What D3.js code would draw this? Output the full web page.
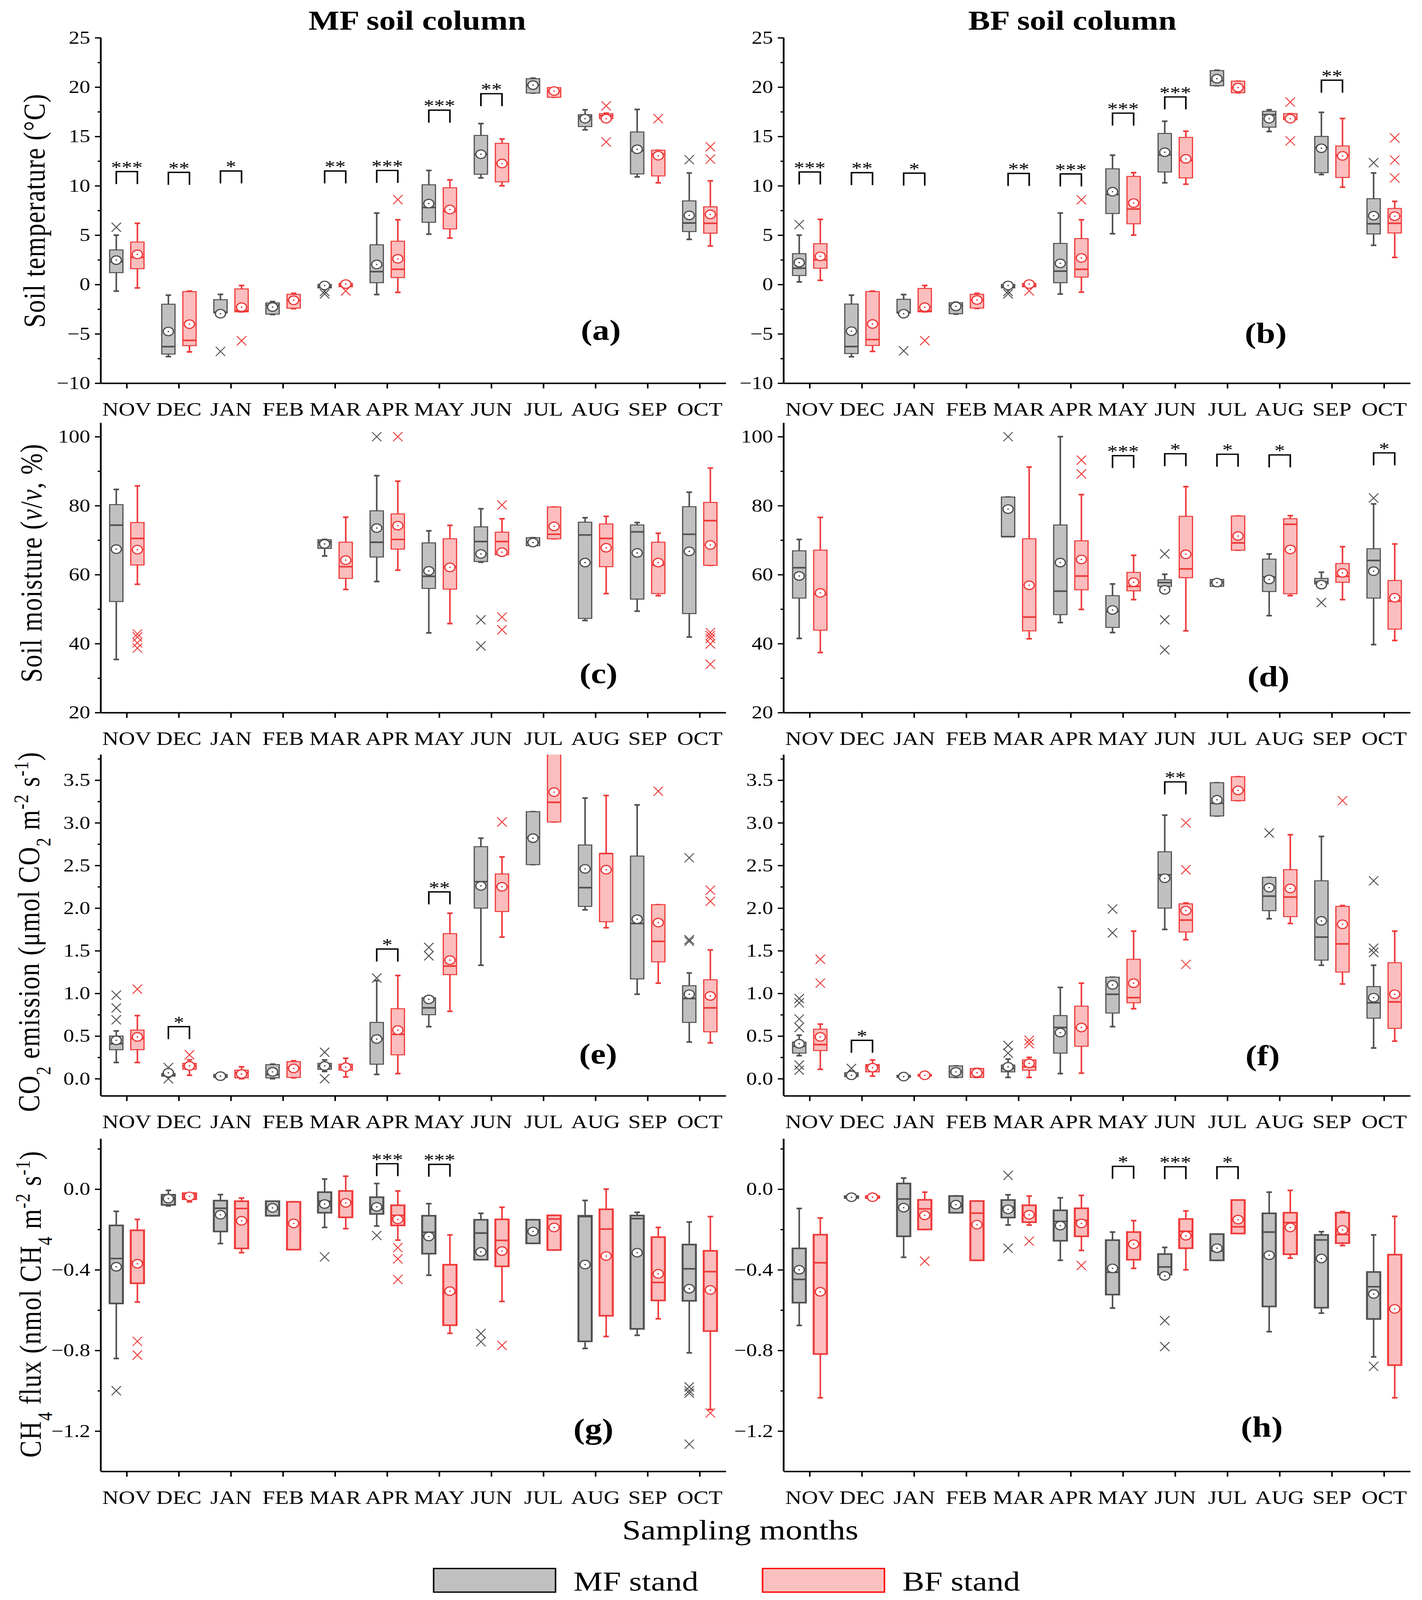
<!DOCTYPE html>
<html lang="en">
<head>
<meta charset="UTF-8">
<title>Soil column box plots</title>
<script src="https://cdn.jsdelivr.net/npm/d3@7"></script>
<style>
  html, body { margin: 0; padding: 0; background: #fff; overflow: hidden; }
  svg { display: block; width: 100vw; height: 100vh; }
  svg text { font-family: "Liberation Serif", "DejaVu Serif", serif; fill: #000; }
</style>
</head>
<body>
<script>
const months = ["NOV","DEC","JAN","FEB","MAR","APR","MAY","JUN","JUL","AUG","SEP","OCT"];

// each month: [whisker low, Q1, median, Q3, whisker high, mean, [outliers]]
const tempMF_a = [
  [-0.67, 1.2, 2.3, 3.5, 5.0, 2.47, [5.8]],
  [-7.3, -7.05, -6.3, -2.0, -1.08, -4.76, []],
  [-2.9, -2.88, -2.8, -1.54, -1.0, -2.96, [-6.78]],
  [-3.04, -3.0, -2.1, -1.87, -1.73, -2.28, []],
  [-0.4, -0.35, -0.25, 0.0, 0.05, -0.1, [-0.7, -0.95]],
  [-1.02, 0.18, 1.3, 4.02, 7.24, 2.03, []],
  [5.1, 6.3, 7.8, 10.1, 11.55, 8.2, []],
  [10.8, 11.17, 13.2, 15.1, 16.3, 13.2, []],
  [19.4, 19.4, 20.2, 20.85, 20.9, 20.2, []],
  [15.67, 16.0, 17.0, 17.2, 17.7, 16.8, []],
  [10.9, 11.2, 13.55, 15.45, 17.74, 13.7, []],
  [4.57, 5.36, 6.23, 8.47, 11.3, 7.0, [12.64]]
];
const tempBF_a = [
  [-0.35, 1.6, 2.75, 4.3, 6.2, 3.05, []],
  [-6.83, -6.2, -5.66, -0.72, -0.67, -4.02, []],
  [-2.77, -2.77, -2.66, -0.45, -0.1, -2.3, [-5.7]],
  [-2.45, -2.4, -1.6, -1.0, -0.9, -1.6, []],
  [-0.3, -0.23, -0.1, 0.1, 0.15, 0.04, [-0.65]],
  [-0.8, 0.7, 1.54, 4.38, 6.56, 2.6, [8.6]],
  [4.7, 5.63, 7.4, 9.8, 10.6, 7.6, []],
  [10.0, 10.4, 12.26, 14.3, 14.74, 12.26, []],
  [18.97, 18.97, 19.6, 19.95, 19.95, 19.6, []],
  [16.75, 16.8, 17.1, 17.3, 17.36, 16.8, [18.1, 14.45]],
  [10.3, 11.0, 13.2, 13.6, 13.6, 13.05, [16.8]],
  [3.9, 5.2, 6.2, 7.87, 10.5, 7.1, [13.95, 12.7]]
];
const tempSig_a = [[0, 11.44, "***"], [1, 11.36, "**"], [2, 11.5, "*"], [4, 11.5, "**"], [5, 11.55, "***"], [6, 17.66, "***"], [7, 19.33, "**"]];

const tempMF_b = [
  [0.26, 0.91, 1.65, 3.12, 5.0, 2.22, [6.07]],
  [-7.32, -7.0, -6.29, -1.98, -1.08, -4.73, []],
  [-2.9, -2.9, -2.82, -1.5, -1.02, -2.96, [-6.72]],
  [-3.0, -2.96, -2.1, -1.85, -1.79, -2.22, []],
  [-0.4, -0.35, -0.25, 0.0, 0.05, -0.1, [-0.7, -0.95]],
  [-0.97, 0.18, 1.35, 4.16, 7.24, 2.14, []],
  [5.14, 7.19, 9.12, 11.72, 13.1, 9.4, []],
  [10.3, 11.4, 13.13, 15.3, 16.54, 13.4, []],
  [20.14, 20.14, 20.64, 21.67, 21.7, 20.85, []],
  [15.5, 15.94, 17.2, 17.55, 17.7, 16.8, []],
  [11.14, 11.33, 13.9, 15.0, 17.44, 13.8, []],
  [3.97, 5.12, 6.15, 8.69, 11.3, 6.97, [12.34]]
];
const tempBF_b = [
  [0.42, 1.65, 2.5, 4.13, 6.6, 2.85, []],
  [-6.78, -6.18, -5.58, -0.72, -0.67, -4.0, []],
  [-2.77, -2.77, -2.69, -0.4, -0.1, -2.3, [-5.69]],
  [-2.42, -2.39, -1.57, -1.0, -0.9, -1.57, []],
  [-0.3, -0.23, -0.1, 0.1, 0.15, 0.04, [-0.65]],
  [-0.78, 0.75, 1.54, 4.65, 6.56, 2.69, [8.58]],
  [5.0, 6.15, 7.65, 10.95, 11.33, 8.25, []],
  [10.16, 10.8, 12.56, 14.9, 15.53, 12.73, []],
  [19.43, 19.43, 19.95, 20.6, 20.6, 19.95, []],
  [16.7, 16.7, 16.87, 17.3, 17.3, 16.8, [18.48, 14.55]],
  [9.86, 10.84, 13.1, 14.03, 16.82, 13.03, []],
  [2.74, 5.22, 6.2, 7.7, 8.42, 6.92, [14.85, 12.6, 10.8]]
];
const tempSig_b = [[0, 11.4, "***"], [1, 11.33, "**"], [2, 11.28, "*"], [4, 11.25, "**"], [5, 11.2, "***"], [6, 17.36, "***"], [7, 19.0, "***"], [10, 20.7, "**"]];

const moistMF_c = [
  [35.4, 52.2, 74.35, 80.3, 84.7, 67.4, []],
  null, null, null,
  [65.4, 67.6, 69.5, 70.1, 70.2, 68.9, []],
  [58.0, 65.1, 69.4, 78.5, 88.7, 73.5, [100]],
  [43.1, 56.0, 59.5, 69.2, 72.7, 61.1, []],
  [63.6, 63.8, 69.6, 73.85, 79.1, 66.0, [46.9, 39.3]],
  [68.4, 68.4, 69.4, 70.7, 70.7, 69.3, []],
  [46.7, 47.3, 71.5, 75.2, 76.5, 63.5, []],
  [49.4, 52.9, 72.4, 74.4, 75.1, 66.3, []],
  [41.9, 48.7, 71.7, 79.7, 83.9, 66.75, []]
];
const moistBF_c = [
  [57.2, 62.8, 70.5, 75.1, 85.74, 67.25, [42.8, 41.9, 40.2, 38.7]],
  null, null, null,
  [55.7, 58.9, 62.3, 69.4, 76.65, 64.2, []],
  [61.3, 67.4, 70.2, 77.6, 87.1, 74.2, [100]],
  [45.8, 55.8, 62.3, 70.4, 74.3, 62.1, []],
  [65.75, 65.75, 69.6, 72.3, 76.2, 66.5, [80.2, 47.7, 44.0]],
  [70.4, 70.4, 71.7, 79.6, 79.6, 74.0, []],
  [54.5, 62.3, 70.5, 74.7, 76.9, 67.8, []],
  [53.9, 54.5, 62.8, 69.4, 72.0, 63.5, []],
  [62.7, 62.7, 75.65, 80.95, 90.9, 68.6, [43.2, 42.3, 41.5, 39.9, 34.0]]
];
const moistSig_c = [];

const moistMF_d = [
  [41.5, 53.2, 62.0, 66.9, 70.2, 59.6, []],
  null, null, null,
  [71.0, 71.0, 71.0, 82.5, 82.5, 79.0, [100]],
  [46.1, 48.4, 55.2, 74.4, 100, 63.5, []],
  [43.2, 44.7, 49.3, 53.9, 57.3, 49.75, []],
  [56.6, 56.6, 57.7, 58.5, 60.1, 55.6, [66.0, 46.9, 38.2]],
  [56.6, 56.6, 57.7, 58.6, 58.6, 57.7, []],
  [48.1, 55.1, 59.3, 64.5, 66.0, 58.6, []],
  [57.3, 57.3, 57.9, 58.9, 60.7, 57.1, [51.9]],
  [39.7, 53.2, 64.1, 67.5, 80.5, 61.0, [82.2]]
];
const moistBF_d = [
  [37.4, 43.9, 54.3, 67.1, 76.6, 54.7, []],
  null, null, null,
  [41.4, 43.7, 47.7, 70.4, 91.2, 56.9, []],
  [49.9, 55.6, 59.6, 69.8, 83.2, 64.4, [93.2, 89.2]],
  [52.75, 55.3, 56.6, 60.65, 65.6, 57.8, []],
  [43.7, 59.1, 61.65, 76.9, 85.5, 65.9, []],
  [67.1, 67.1, 69.2, 77.0, 77.0, 71.2, []],
  [53.9, 54.45, 74.6, 76.2, 77.1, 67.3, []],
  [52.75, 57.8, 59.5, 63.2, 68.1, 60.5, []],
  [40.9, 44.2, 52.3, 58.3, 68.9, 53.3, []]
];
const moistSig_d = [[6, 94.5, "***"], [7, 95.05, "*"], [8, 94.9, "*"], [9, 94.7, "*"], [11, 95.3, "*"]];

const co2MF_e = [
  [0.19, 0.34, 0.41, 0.50, 0.56, 0.45, [0.98, 0.83, 0.69]],
  [0.02, 0.03, 0.04, 0.06, 0.08, 0.07, [0.13, 0.0]],
  [0.01, 0.015, 0.03, 0.05, 0.06, 0.03, []],
  [0.0, 0.01, 0.05, 0.165, 0.17, 0.08, []],
  [0.085, 0.11, 0.15, 0.18, 0.22, 0.15, [0.31, 0.0]],
  [0.05, 0.17, 0.47, 0.66, 1.15, 0.465, [1.18]],
  [0.61, 0.75, 0.83, 0.95, 0.95, 0.93, [1.54, 1.44]],
  [1.33, 2.0, 2.31, 2.72, 2.82, 2.26, []],
  [2.51, 2.51, 2.83, 3.13, 3.13, 2.82, []],
  [1.98, 2.02, 2.24, 2.74, 3.29, 2.46, []],
  [0.99, 1.17, 1.82, 2.61, 3.21, 1.87, []],
  [0.43, 0.66, 0.94, 1.09, 1.24, 0.99, [2.59, 1.63, 1.61]]
];
const co2BF_e = [
  [0.19, 0.34, 0.47, 0.57, 0.74, 0.49, [1.05]],
  [0.04, 0.11, 0.15, 0.18, 0.22, 0.15, [0.28]],
  [0.0, 0.01, 0.07, 0.10, 0.14, 0.055, []],
  [0.01, 0.015, 0.13, 0.2, 0.21, 0.12, []],
  [0.02, 0.10, 0.14, 0.17, 0.24, 0.135, []],
  [0.06, 0.28, 0.52, 0.82, 1.21, 0.57, []],
  [0.79, 1.22, 1.32, 1.70, 1.94, 1.39, []],
  [1.66, 1.96, 2.25, 2.4, 2.6, 2.25, [3.01]],
  [3.01, 3.01, 3.24, 3.95, 3.95, 3.36, []],
  [1.77, 1.84, 2.64, 2.64, 3.32, 2.45, []],
  [1.12, 1.37, 1.61, 2.04, 2.04, 1.83, [3.37]],
  [0.42, 0.55, 0.83, 1.16, 1.51, 0.97, [2.21, 2.08]]
];
const co2Sig_e = [[1, 0.61, "*"], [5, 1.52, "*"], [6, 2.19, "**"]];

const co2MF_f = [
  [0.27, 0.30, 0.38, 0.43, 0.51, 0.41, [0.94, 0.89, 0.70, 0.60, 0.16, 0.10]],
  [0.01, 0.025, 0.04, 0.07, 0.09, 0.04, [0.12]],
  [0.01, 0.015, 0.03, 0.04, 0.045, 0.025, []],
  [0.015, 0.015, 0.08, 0.15, 0.15, 0.08, []],
  [0.015, 0.08, 0.12, 0.16, 0.23, 0.14, [0.39, 0.30]],
  [0.06, 0.30, 0.60, 0.74, 1.07, 0.54, []],
  [0.61, 0.77, 0.99, 1.19, 1.19, 1.10, [1.99, 1.71]],
  [1.75, 2.0, 2.39, 2.66, 3.09, 2.35, []],
  [3.08, 3.08, 3.23, 3.47, 3.47, 3.27, []],
  [1.875, 1.97, 2.14, 2.36, 2.36, 2.24, [2.88]],
  [1.33, 1.39, 1.66, 2.32, 2.84, 1.85, []],
  [0.36, 0.71, 0.89, 1.08, 1.33, 0.95, [2.32, 1.53, 1.48]]
];
const co2BF_f = [
  [0.11, 0.33, 0.40, 0.58, 0.64, 0.49, [1.40, 1.12]],
  [0.03, 0.08, 0.15, 0.165, 0.22, 0.13, []],
  [0.025, 0.03, 0.04, 0.05, 0.055, 0.04, []],
  [0.015, 0.015, 0.07, 0.12, 0.12, 0.07, []],
  [0.015, 0.10, 0.14, 0.22, 0.25, 0.18, [0.45, 0.41]],
  [0.065, 0.38, 0.60, 0.85, 1.12, 0.60, []],
  [0.82, 0.89, 0.95, 1.40, 1.73, 1.12, []],
  [1.63, 1.72, 1.86, 2.05, 2.06, 1.97, [3.0, 2.45, 1.34]],
  [3.26, 3.26, 3.38, 3.54, 3.54, 3.38, []],
  [1.82, 1.90, 2.13, 2.45, 2.86, 2.23, []],
  [1.11, 1.25, 1.58, 2.02, 2.03, 1.81, [3.26]],
  [0.44, 0.59, 0.90, 1.36, 1.73, 0.99, []]
];
const co2Sig_f = [[1, 0.45, "*"], [7, 3.48, "**"]];

const ch4MF_g = [
  [-0.84, -0.567, -0.344, -0.18, -0.11, -0.385, [-1.0]],
  [-0.083, -0.078, -0.047, -0.028, -0.006, -0.047, []],
  [-0.27, -0.21, -0.095, -0.057, -0.027, -0.127, []],
  [-0.132, -0.132, -0.093, -0.06, -0.06, -0.093, []],
  [-0.19, -0.117, -0.06, -0.015, 0.05, -0.074, [-0.336]],
  [-0.183, -0.123, -0.099, -0.04, 0.028, -0.088, [-0.23]],
  [-0.427, -0.32, -0.214, -0.132, -0.072, -0.235, []],
  [-0.35, -0.35, -0.218, -0.152, -0.12, -0.311, [-0.716, -0.757]],
  [-0.269, -0.269, -0.206, -0.152, -0.152, -0.21, []],
  [-0.79, -0.755, -0.136, -0.132, -0.056, -0.374, []],
  [-0.725, -0.693, -0.146, -0.131, -0.115, -0.315, []],
  [-0.812, -0.554, -0.395, -0.275, -0.163, -0.494, [-0.981, -1.0, -1.012, -1.265]]
];
const ch4BF_g = [
  [-0.56, -0.467, -0.36, -0.204, -0.15, -0.37, [-0.755, -0.823]],
  [-0.063, -0.05, -0.037, -0.02, -0.02, -0.036, []],
  [-0.315, -0.294, -0.096, -0.06, -0.044, -0.157, []],
  [-0.3, -0.3, -0.167, -0.063, -0.063, -0.17, []],
  [-0.196, -0.14, -0.062, -0.009, 0.064, -0.068, []],
  [-0.253, -0.18, -0.13, -0.08, -0.009, -0.15, [-0.29, -0.346, -0.448]],
  [-0.715, -0.675, -0.516, -0.375, -0.227, -0.506, []],
  [-0.557, -0.383, -0.254, -0.15, -0.09, -0.307, [-0.775]],
  [-0.302, -0.302, -0.148, -0.13, -0.13, -0.19, []],
  [-0.731, -0.628, -0.198, -0.1, 0.0, -0.332, []],
  [-0.643, -0.552, -0.463, -0.238, -0.19, -0.42, []],
  [-1.093, -0.704, -0.409, -0.306, -0.136, -0.5, [-1.11]]
];
const ch4Sig_g = [[5, 0.126, "***"], [6, 0.123, "***"]];

const ch4MF_h = [
  [-0.676, -0.563, -0.448, -0.294, -0.096, -0.40, []],
  [-0.044, -0.044, -0.04, -0.035, -0.035, -0.04, []],
  [-0.338, -0.234, -0.049, 0.028, 0.055, -0.092, []],
  [-0.117, -0.117, -0.086, -0.034, -0.034, -0.077, []],
  [-0.178, -0.141, -0.089, -0.054, -0.028, -0.1, [0.068, -0.293]],
  [-0.353, -0.256, -0.16, -0.105, -0.043, -0.181, []],
  [-0.59, -0.523, -0.412, -0.253, -0.213, -0.393, []],
  [-0.424, -0.424, -0.386, -0.322, -0.289, -0.43, [-0.652, -0.781]],
  [-0.353, -0.353, -0.307, -0.223, -0.223, -0.293, []],
  [-0.707, -0.582, -0.213, -0.12, -0.015, -0.328, []],
  [-0.615, -0.588, -0.252, -0.227, -0.211, -0.344, []],
  [-0.832, -0.644, -0.484, -0.411, -0.227, -0.52, [-0.879]]
];
const ch4BF_h = [
  [-1.035, -0.818, -0.365, -0.226, -0.143, -0.509, []],
  [-0.044, -0.044, -0.04, -0.035, -0.035, -0.04, []],
  [-0.2, -0.2, -0.098, -0.053, -0.015, -0.13, [-0.357]],
  [-0.353, -0.353, -0.119, -0.059, -0.059, -0.176, []],
  [-0.178, -0.164, -0.127, -0.08, -0.034, -0.127, [-0.258]],
  [-0.304, -0.234, -0.155, -0.095, -0.031, -0.17, [-0.379]],
  [-0.393, -0.35, -0.268, -0.213, -0.156, -0.273, []],
  [-0.4, -0.293, -0.209, -0.148, -0.108, -0.231, []],
  [-0.22, -0.22, -0.187, -0.054, -0.054, -0.151, []],
  [-0.342, -0.323, -0.166, -0.117, -0.006, -0.19, []],
  [-0.28, -0.268, -0.225, -0.117, -0.111, -0.202, []],
  [-1.035, -0.873, -0.594, -0.325, -0.135, -0.594, []]
];
const ch4Sig_h = [[6, 0.113, "*"], [7, 0.111, "***"], [8, 0.111, "*"]];

const yDomains = [[-10, 25], [20, 104], [-0.2, 3.8], [-1.4, 0.25]];
const yMajor = [d3.range(-10, 26, 5), [20, 40, 60, 80, 100], d3.range(0, 3.51, 0.5), [0, -0.4, -0.8, -1.2]];
const yMinor = [d3.range(-7.5, 25, 5), [30, 50, 70, 90], d3.range(0.25, 3.8, 0.5), [0.2, -0.2, -0.6, -1.0]];
const yFormats = [d3.format("d"), d3.format("d"), d3.format(".1f"), d3.format(".1f")];
const columnTitles = ["MF soil column", "BF soil column"];
const seriesNames = ["MF stand", "BF stand"];

// ---- layout ----
const W = 3640, H = 4877;
const colX = [[258, 1858], [2006, 3610]];
const rowY = [[115, 1168], [1289, 2172], [2300, 3340], [3471, 4485]];
const colors = {
  mf: { stroke: "#505050", fill: "#c0c0c0" },
  bf: { stroke: "#ee3a3a", fill: "#fbbdbd" }
};

const panels = [
  { id: "a", row: 0, col: 0, mf: tempMF_a, bf: tempBF_a, sig: tempSig_a, lab: [1538, 1036] },
  { id: "b", row: 0, col: 1, mf: tempMF_b, bf: tempBF_b, sig: tempSig_b, lab: [3240, 1045] },
  { id: "c", row: 1, col: 0, mf: moistMF_c, bf: moistBF_c, sig: moistSig_c, lab: [1532, 2083] },
  { id: "d", row: 1, col: 1, mf: moistMF_d, bf: moistBF_d, sig: moistSig_d, lab: [3247, 2092] },
  { id: "e", row: 2, col: 0, mf: co2MF_e, bf: co2BF_e, sig: co2Sig_e, lab: [1531, 3242] },
  { id: "f", row: 2, col: 1, mf: co2MF_f, bf: co2BF_f, sig: co2Sig_f, lab: [3232, 3247] },
  { id: "g", row: 3, col: 0, mf: ch4MF_g, bf: ch4BF_g, sig: ch4Sig_g, lab: [1519, 4385] },
  { id: "h", row: 3, col: 1, mf: ch4MF_h, bf: ch4BF_h, sig: ch4Sig_h, lab: [3230, 4379] }
];

// scale the whole drawing to whatever viewport we get
const svg = d3.select("body").append("svg")
  .attr("viewBox", `0 0 ${W} ${H}`)
  .attr("preserveAspectRatio", "none");

svg.append("rect").attr("width", W).attr("height", H).attr("fill", "#fff");

const defs = svg.append("defs");

function drawPanel(p) {
  const [x0, x1] = colX[p.col];
  const [y0, y1] = rowY[p.row];
  const x = d3.scaleBand().domain(months).range([x0, x1]);
  const y = d3.scaleLinear().domain(yDomains[p.row]).range([y1, y0]);
  const heavy = p.row === 3;
  const boxW = 34, off = 27;
  const g = svg.append("g");

  defs.append("clipPath").attr("id", "clip-" + p.id)
    .append("rect").attr("x", x0).attr("y", y0).attr("width", x1 - x0).attr("height", y1 - y0);
  const plot = g.append("g").attr("clip-path", `url(#clip-${p.id})`);

  const mid = m => x(m) + x.bandwidth() / 2;

  [["mf", p.mf, -off], ["bf", p.bf, off]].forEach(([key, rows, dx]) => {
    const c = colors[key];
    rows.forEach((r, i) => {
      if (!r) return;
      const [lo, q1, med, q3, hi, mean, outs] = r;
      const cx = mid(months[i]) + dx;
      const s = plot.append("g");
      // whiskers
      s.append("line").attr("x1", cx).attr("x2", cx).attr("y1", y(hi)).attr("y2", y(q3))
        .attr("stroke", c.stroke).attr("stroke-width", 4);
      s.append("line").attr("x1", cx).attr("x2", cx).attr("y1", y(q1)).attr("y2", y(lo))
        .attr("stroke", c.stroke).attr("stroke-width", 4);
      [lo, hi].forEach(v => {
        s.append("line").attr("x1", cx - 7).attr("x2", cx + 7).attr("y1", y(v)).attr("y2", y(v))
          .attr("stroke", c.stroke).attr("stroke-width", 5);
      });
      // box
      s.append("rect").attr("x", cx - boxW / 2).attr("width", boxW)
        .attr("y", y(q3)).attr("height", Math.max(1, y(q1) - y(q3)))
        .attr("fill", c.fill).attr("stroke", c.stroke).attr("stroke-width", heavy ? 5 : 3);
      s.append("line").attr("x1", cx - boxW / 2).attr("x2", cx + boxW / 2)
        .attr("y1", y(med)).attr("y2", y(med))
        .attr("stroke", c.stroke).attr("stroke-width", 5);
      // outliers
      outs.forEach(v => {
        s.append("path")
          .attr("d", `M${cx - 12},${y(v) - 14}L${cx + 12},${y(v) + 14}M${cx - 12},${y(v) + 14}L${cx + 12},${y(v) - 14}`)
          .attr("stroke", c.stroke).attr("stroke-width", 2.6).attr("fill", "none");
      });
      // mean
      s.append("circle").attr("cx", cx).attr("cy", y(mean)).attr("r", 13)
        .attr("fill", "#fff").attr("stroke", c.stroke).attr("stroke-width", 3.5);
      s.append("circle").attr("cx", cx).attr("cy", y(mean)).attr("r", 2.2).attr("fill", c.stroke);
    });
  });

  // significance brackets
  p.sig.forEach(([i, v, stars]) => {
    const a = mid(months[i]) - off, b = mid(months[i]) + off, yt = y(v);
    g.append("path").attr("d", `M${a},${yt + 38}V${yt}H${b}V${yt + 38}`)
      .attr("fill", "none").attr("stroke", "#000").attr("stroke-width", 4);
    g.append("text").attr("x", (a + b) / 2).attr("y", yt + 4)
      .attr("text-anchor", "middle").attr("font-size", 54).text(stars);
  });

  // axes
  const xa = g.append("g").attr("transform", `translate(0,${y1})`)
    .call(d3.axisBottom(x).tickSize(16).tickSizeOuter(0).tickPadding(42));
  const ya = g.append("g").attr("transform", `translate(${x0},0)`)
    .call(d3.axisLeft(y).tickValues(yMajor[p.row]).tickFormat(yFormats[p.row]).tickSize(15).tickSizeOuter(0).tickPadding(12));
  const ym = g.append("g").attr("transform", `translate(${x0},0)`)
    .call(d3.axisLeft(y).tickValues(yMinor[p.row]).tickFormat("").tickSize(8));
  ym.select(".domain").remove();
  [xa, ya, ym].forEach(ax => {
    ax.attr("font-family", null).attr("font-size", null);
    ax.selectAll("line").attr("stroke", "#000").attr("stroke-width", 4);
    ax.select(".domain").attr("stroke", "#000").attr("stroke-width", 4.5);
    ax.selectAll("text").attr("font-size", 55).attr("fill", "#000");
  });
  xa.selectAll("text").attr("font-size", 58);
  ya.select(".domain").attr("d", `M0,${y1}V${y0}`);

  g.append("text").attr("x", p.lab[0]).attr("y", p.lab[1])
    .attr("text-anchor", "middle").attr("font-size", 88).attr("font-weight", "bold")
    .text(`(${p.id})`);
}

panels.forEach(drawPanel);

// column titles
columnTitles.forEach((t, i) => {
  svg.append("text").attr("x", (colX[i][0] + colX[i][1]) / 2 + (i === 0 ? 10 : -63)).attr("y", 90)
    .attr("text-anchor", "middle").attr("font-size", 84).attr("font-weight", "bold").text(t);
});

// y-axis labels (rotated, with sub/superscripts)
const yLabels = [
  { cx: 114, cy: 642, parts: [["Soil temperature (°C)", null]] },
  { cx: 106, cy: 1716, parts: [["Soil moisture (", null], ["v", "it"], ["/", null], ["v", "it"], [", %)", null]] },
  { cx: 100, cy: 2840, parts: [["CO", null], ["2", "sub"], [" emission (μmol CO", null], ["2", "sub"], [" m", null], ["-2", "super"], [" s", null], ["-1", "super"], [")", null]] },
  { cx: 104, cy: 3975, parts: [["CH", null], ["4", "sub"], [" flux (nmol CH", null], ["4", "sub"], [" m", null], ["-2", "super"], [" s", null], ["-1", "super"], [")", null]] }
];
yLabels.forEach(l => {
  const t = svg.append("text")
    .attr("transform", `translate(${l.cx},${l.cy}) rotate(-90)`)
    .attr("text-anchor", "middle").attr("font-size", 78).attr("letter-spacing", 2);
  l.parts.forEach(([s, k]) => {
    const ts = t.append("tspan").text(s);
    if (k === "it") ts.attr("font-style", "italic");
    if (k === "sub") ts.attr("baseline-shift", "sub").attr("font-size", 52);
    if (k === "super") ts.attr("baseline-shift", "super").attr("font-size", 52);
  });
});

// shared x label
svg.append("text").attr("x", 1895).attr("y", 4693)
  .attr("text-anchor", "middle").attr("font-size", 86).text("Sampling months");

// legend
const legend = svg.append("g");
[[1110, 4781, colors.mf.fill, "#000"], [1952, 4781, "#fcc0c0", "#ff0000"]].forEach(([lx, ly, f, st], i) => {
  legend.append("rect").attr("x", lx).attr("y", ly).attr("width", 312).attr("height", 72)
    .attr("fill", f).attr("stroke", st).attr("stroke-width", 4);
  legend.append("text").attr("x", lx + 358).attr("y", ly + 67)
    .attr("font-size", 84).text(seriesNames[i]);
});
</script>
</body>
</html>
